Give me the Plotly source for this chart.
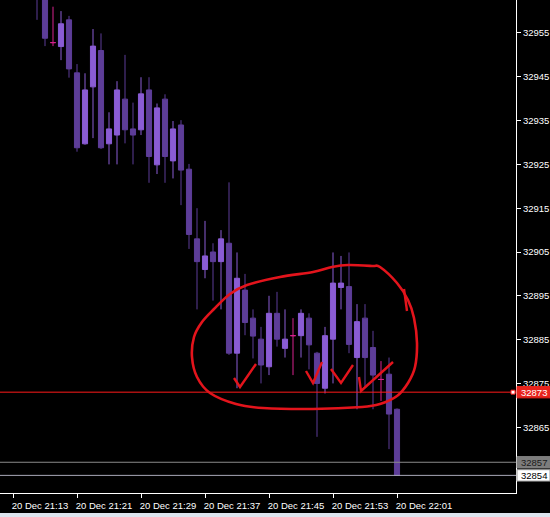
import plotly.graph_objects as go

# ---------------- data (1-minute candles, 20 Dec) ----------------
times = ["21:16", "21:17", "21:18", "21:19", "21:20", "21:21", "21:22", "21:23", "21:24", "21:25",
         "21:26", "21:27", "21:28", "21:29", "21:30", "21:31", "21:32", "21:33", "21:34", "21:35",
         "21:36", "21:37", "21:38", "21:39", "21:40", "21:41", "21:42", "21:43", "21:44", "21:45",
         "21:46", "21:47", "21:48", "21:49", "21:50", "21:51", "21:52", "21:53", "21:54", "21:55",
         "21:56", "21:57", "21:58", "21:59", "22:00", "22:01"]
opens = [32966.0, 32965.0, 32952.8, 32951.9, 32958.0, 32945.9, 32929.7, 32942.7, 32951.0, 32929.7,
         32931.7, 32939.9, 32933.1, 32932.9, 32942.0, 32924.9, 32939.9, 32925.8, 32934.0, 32923.9,
         32908.0, 32901.0, 32905.0, 32902.8, 32907.0, 32881.9, 32896.3, 32889.9, 32885.1, 32878.8,
         32891.0, 32883.0, 32885.9, 32885.9, 32889.9, 32881.9, 32873.9, 32885.1, 32896.9, 32897.1,
         32880.9, 32889.9, 32883.2, 32875.9, 32877.1, 32869.1]
highs = [32968.0, 32966.5, 32961.0, 32960.0, 32958.9, 32947.9, 32945.8, 32955.9, 32954.9, 32936.9,
         32944.0, 32950.0, 32939.1, 32944.9, 32944.9, 32938.9, 32941.0, 32934.9, 32935.1, 32925.1,
         32915.0, 32912.1, 32907.0, 32910.0, 32920.9, 32904.9, 32900.0, 32891.9, 32887.9, 32895.0,
         32895.9, 32891.9, 32889.9, 32891.9, 32891.0, 32882.2, 32887.9, 32904.9, 32904.1, 32904.9,
         32893.1, 32893.1, 32887.0, 32880.1, 32880.9, 32869.3]
lows = [32958.0, 32952.0, 32952.0, 32948.8, 32944.8, 32927.9, 32929.5, 32931.0, 32928.5, 32925.0,
        32925.0, 32929.8, 32925.0, 32931.7, 32920.8, 32922.8, 32920.8, 32921.8, 32915.7, 32905.7,
        32891.9, 32899.0, 32893.9, 32891.9, 32881.5, 32873.9, 32886.0, 32880.7, 32875.0, 32876.9,
        32883.4, 32880.9, 32876.9, 32880.9, 32878.2, 32862.8, 32872.7, 32875.0, 32891.9, 32881.9,
        32869.1, 32874.2, 32869.1, 32871.0, 32860.0, 32854.0]
closes = [32963.5, 32953.8, 32952.8, 32957.1, 32946.8, 32928.8, 32942.0, 32952.0, 32928.8, 32933.1,
          32942.0, 32932.9, 32931.7, 32941.1, 32926.8, 32937.9, 32926.8, 32933.1, 32923.7, 32909.0,
          32902.8, 32904.1, 32902.8, 32908.0, 32881.9, 32899.0, 32888.9, 32885.8, 32879.2, 32891.0,
          32885.1, 32885.1, 32885.9, 32891.0, 32883.8, 32875.0, 32885.9, 32897.9, 32897.9, 32883.9,
          32889.1, 32880.9, 32876.9, 32875.9, 32868.0, 32854.0]
doji_times = ["21:18", "21:48", "21:59"]

tick_times = ["21:13", "21:21", "21:29", "21:37", "21:45", "21:53", "22:01"]
tick_labels = ["20 Dec " + t for t in tick_times]
price_ticks = [32865, 32875, 32885, 32895, 32905, 32915, 32925, 32935, 32945, 32955]

red_level = 32873
grey_level = 32857
last_level = 32854

# ---------------- styling ----------------
DAY = "2024-12-20 "
BULL = "#8a5cd4"
BEAR = "#5d3d98"
DOJI = "#d8228e"
PEN = "#e3141c"
FONT = dict(family="Liberation Sans, Arial, sans-serif", size=9.5, color="#ffffff")

W, H = 550, 517
ML, MR, MT, MB = 0, 34, 0, 24
PW, PH = W - ML - MR, H - MT - MB

def ts(t):
    return DAY + t + ":00"

main_idx = [i for i, t in enumerate(times) if t not in doji_times]
doji_idx = [i for i, t in enumerate(times) if t in doji_times]

def pick(arr, idx):
    return [arr[i] for i in idx]

fig = go.Figure()
fig.add_trace(go.Candlestick(
    x=[ts(times[i]) for i in main_idx],
    open=pick(opens, main_idx), high=pick(highs, main_idx),
    low=pick(lows, main_idx), close=pick(closes, main_idx),
    increasing=dict(line=dict(color=BULL, width=1), fillcolor=BULL),
    decreasing=dict(line=dict(color=BEAR, width=1), fillcolor=BEAR),
    whiskerwidth=0, hoverinfo="skip", showlegend=False))
fig.add_trace(go.Candlestick(
    x=[ts(times[i]) for i in doji_idx],
    open=pick(opens, doji_idx), high=pick(highs, doji_idx),
    low=pick(lows, doji_idx), close=pick(closes, doji_idx),
    increasing=dict(line=dict(color=DOJI, width=1), fillcolor=DOJI),
    decreasing=dict(line=dict(color=DOJI, width=1), fillcolor=DOJI),
    whiskerwidth=0, hoverinfo="skip", showlegend=False))

shapes = []
# horizontal price lines
shapes.append(dict(type="line", xref="paper", x0=0, x1=1, yref="y", y0=red_level, y1=red_level,
                   line=dict(color="#ff1a1a", width=1)))
shapes.append(dict(type="line", xref="paper", x0=0, x1=1, yref="y", y0=grey_level, y1=grey_level,
                   line=dict(color="#8a8a8a", width=1)))
shapes.append(dict(type="line", xref="paper", x0=0, x1=1, yref="y", y0=last_level, y1=last_level,
                   line=dict(color="#a8a8b8", width=1)))
# small handle square at right end of the red line
shapes.append(dict(type="rect", xref="paper", x0=(511) / PW, x1=(515) / PW, yref="y",
                   y0=red_level - 0.45, y1=red_level + 0.45,
                   fillcolor="#ffffff", line=dict(color="#ff1a1a", width=1)))

# price label boxes on the right axis
def label_box(level, fill, border):
    shapes.append(dict(type="rect", xref="paper", x0=517 / PW, x1=550 / PW, yref="y",
                       y0=level - 1.3, y1=level + 1.3, fillcolor=fill,
                       line=dict(color=border, width=1), layer="above"))

label_box(red_level, "#e8231c", "#e8231c")
label_box(grey_level, "#7d7d7d", "#7d7d7d")
label_box(last_level, "#ffffff", "#9a9a9a")

# ---- hand-drawn red loop and check marks (pixel positions on the plot area) ----
loop_px = [(380, 267), (397, 283), (408, 300), (414, 318), (417, 343), (415, 367), (408, 383),
           (397, 396), (380, 404), (362, 407), (313, 409), (263, 408), (236, 404), (210, 393),
           (197, 377), (192, 357), (194, 337), (202, 322), (214, 309), (230, 294), (247, 285),
           (280, 277), (313, 272), (332, 267), (348, 265), (372, 266)]
checks_px = [
    [(234, 378), (240, 387), (256, 364)],
    [(306, 371), (313, 383), (322, 362)],
    [(331, 369), (341, 383), (353, 365)],
    [(359, 377), (361, 391), (393, 362)],
]
tail_px = [(404, 289), (407, 311)]

def to_paper(p):
    return (p[0] / PW, 1 - p[1] / PH)

def smooth_closed(pts):
    n = len(pts)
    P = [to_paper(p) for p in pts]
    d = "M %.5f,%.5f" % P[0]
    for i in range(n):
        p0, p1, p2, p3 = P[(i - 1) % n], P[i], P[(i + 1) % n], P[(i + 2) % n]
        c1 = (p1[0] + (p2[0] - p0[0]) / 6, p1[1] + (p2[1] - p0[1]) / 6)
        c2 = (p2[0] - (p3[0] - p1[0]) / 6, p2[1] - (p3[1] - p1[1]) / 6)
        d += " C %.5f,%.5f %.5f,%.5f %.5f,%.5f" % (c1 + c2 + p2)
    return d + " Z"

def poly(pts):
    P = [to_paper(p) for p in pts]
    return "M " + " L ".join("%.5f,%.5f" % q for q in P)

shapes.append(dict(type="path", xref="paper", yref="paper", path=smooth_closed(loop_px),
                   line=dict(color=PEN, width=2.6), layer="above"))
for c in checks_px + [tail_px]:
    shapes.append(dict(type="path", xref="paper", yref="paper", path=poly(c),
                       line=dict(color=PEN, width=2.4), layer="above"))

# bottom window strip
shapes.append(dict(type="rect", xref="paper", yref="paper", x0=-0.01, x1=1.1,
                   y0=-(H - PH) / PH, y1=-(513 - PH) / PH,
                   fillcolor="#dde5ee", line=dict(width=0), layer="above"))

annotations = []
def label_text(level, color):
    annotations.append(dict(xref="paper", x=534 / PW, yref="y", y=level, text=str(level),
                            showarrow=False, xanchor="center", yanchor="middle",
                            font=dict(family=FONT["family"], size=FONT["size"], color=color)))

label_text(red_level, "#ffffff")
label_text(grey_level, "#1a1a1a")
label_text(last_level, "#000000")

fig.update_layout(
    width=W, height=H,
    margin=dict(l=ML, r=MR, t=MT, b=MB, pad=0),
    paper_bgcolor="#000000", plot_bgcolor="#000000",
    font=FONT,
    showlegend=False,
    boxgap=0.2, boxgroupgap=0.2,
    shapes=shapes, annotations=annotations,
    xaxis=dict(type="date", range=[DAY + "21:11:22.5", DAY + "22:15:52.5"],
               rangeslider=dict(visible=False),
               showgrid=False, zeroline=False,
               showline=True, linecolor="#ffffff", linewidth=1,
               ticks="outside", ticklen=4, tickcolor="#ffffff", tickwidth=1,
               tickvals=[ts(t) for t in tick_times], ticktext=tick_labels,
               tickfont=FONT, ticklabelshift=27, ticklabelstandoff=0),
    yaxis=dict(side="right", range=[32849.98, 32962.53],
               showgrid=False, zeroline=False,
               showline=True, linecolor="#ffffff", linewidth=1,
               ticks="outside", ticklen=4, tickcolor="#ffffff", tickwidth=1,
               tickvals=price_ticks, ticktext=[str(v) for v in price_ticks], tickfont=FONT),
)

fig.write_html("out.html", config=dict(displayModeBar=False),
               post_script="document.body.style.margin='0';document.body.style.background='#000';")
